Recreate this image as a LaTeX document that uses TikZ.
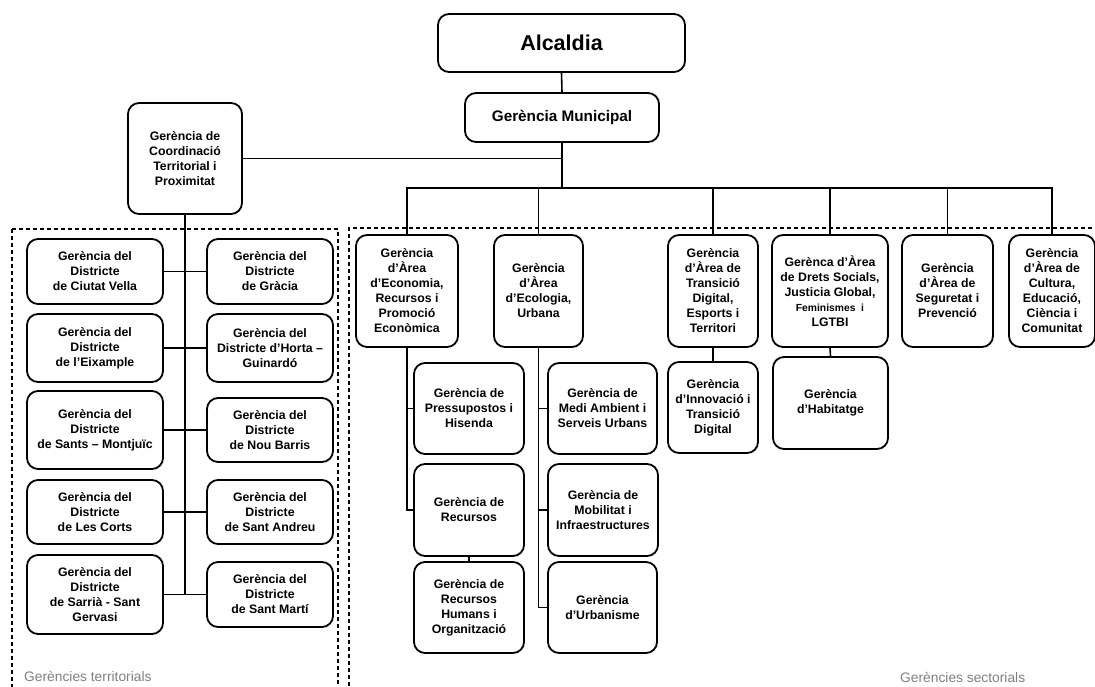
\documentclass[tikz,border=0pt]{standalone}
\usepackage{fontspec}
\setmainfont{Liberation Sans}
\begin{document}
\begin{tikzpicture}[x=1pt,y=-1pt,
  box/.style={draw=black, line width=1.8pt, rounded corners=11pt, align=center, inner sep=1pt,
    font=\fontsize{12.3}{15}\selectfont\bfseries, fill=white},
  conn/.style={draw=black, line width=1.6pt},
  grp/.style={draw=black, line width=1.3pt, dash pattern=on 4pt off 3pt},
  lbl/.style={text=black!50, font=\fontsize{13.8}{16}\selectfont, anchor=west, inner sep=0pt}]
\useasboundingbox (0,0) rectangle (1095,686);
% group frames
\draw[grp] (12,229) -- (338,229) -- (338,700);
\draw[grp] (12,229) -- (12,700);
\draw[grp] (349,700) -- (349,228) -- (1110,228);
% top
\node[box, minimum width=247pt, minimum height=58pt, font=\fontsize{21.5}{24}\selectfont\bfseries] (alc) at (561.5,43) {Alcaldia};
\node[box, minimum width=194pt, minimum height=49pt, font=\fontsize{15.3}{18}\selectfont\bfseries] (gm) at (562,117.5) {Gerència Municipal};
\node[box, minimum width=114pt, minimum height=111pt] (coord) at (185,158.5) {Gerència de\\Coordinació\\Territorial i\\Proximitat};
% territorial
\node[box, minimum width=136pt, minimum height=65pt] (cv) at (95,271.5) {Gerència del\\Districte\\de Ciutat Vella};
\node[box, minimum width=126pt, minimum height=65pt] (gr) at (270,271.5) {Gerència del\\Districte\\de Gràcia};
\node[box, minimum width=136pt, minimum height=68pt] (ei) at (95,348) {Gerència del\\Districte\\de l’Eixample};
\node[box, minimum width=126pt, minimum height=68pt] (ho) at (270,348) {Gerència del\\Districte d’Horta –\\Guinardó};
\node[box, minimum width=136pt, minimum height=78pt] (sa) at (95,430) {Gerència del\\Districte\\de Sants – Montjuïc};
\node[box, minimum width=126pt, minimum height=64pt] (nb) at (270,430) {Gerència del\\Districte\\de Nou Barris};
\node[box, minimum width=136pt, minimum height=64pt] (lc) at (95,512) {Gerència del\\Districte\\de Les Corts};
\node[box, minimum width=126pt, minimum height=64pt] (an) at (270,512) {Gerència del\\Districte\\de Sant Andreu};
\node[box, minimum width=136pt, minimum height=79pt] (sr) at (95,594.5) {Gerència del\\Districte\\de Sarrià - Sant\\Gervasi};
\node[box, minimum width=126pt, minimum height=65pt] (sm) at (270,594.5) {Gerència del\\Districte\\de Sant Martí};
% sectorial top row
\node[box, minimum width=102pt, minimum height=112pt] (eco) at (407,291) {Gerència\\d’Àrea\\d’Economia,\\Recursos i\\Promoció\\Econòmica};
\node[box, minimum width=89pt, minimum height=112pt] (ecol) at (538.5,291) {Gerència\\d’Àrea\\d’Ecologia,\\Urbana};
\node[box, minimum width=90pt, minimum height=112pt] (trans) at (713,291) {Gerència\\d’Àrea de\\Transició\\Digital,\\Esports i\\Territori};
\node[box, minimum width=116pt, minimum height=112pt] (drets) at (830,291) {Gerènca d’Àrea\\de Drets Socials,\\Justicia Global,\\{\fontsize{10.3}{15}\selectfont Feminismes\ \ i}\\LGTBI};
\node[box, minimum width=91pt, minimum height=112pt] (seg) at (947.5,291) {Gerència\\d’Àrea de\\Seguretat i\\Prevenció};
\node[box, minimum width=86pt, minimum height=112pt] (cult) at (1052,291) {Gerència\\d’Àrea de\\Cultura,\\Educació,\\Ciència i\\Comunitat};
% sub boxes
\node[box, minimum width=110pt, minimum height=91pt] (pres) at (469,408.5) {Gerència de\\Pressupostos i\\Hisenda};
\node[box, minimum width=110pt, minimum height=92pt] (rec) at (469,510) {Gerència de\\Recursos};
\node[box, minimum width=110pt, minimum height=91pt] (rrhh) at (469,607.5) {Gerència de\\Recursos\\Humans i\\Organització};
\node[box, minimum width=109pt, minimum height=91pt] (medi) at (602.5,408.5) {Gerència de\\Medi Ambient i\\Serveis Urbans};
\node[box, minimum width=110pt, minimum height=92pt] (mob) at (603,510) {Gerència de\\Mobilitat i\\Infraestructures};
\node[box, minimum width=109pt, minimum height=91pt] (urb) at (602.5,607.5) {Gerència\\d’Urbanisme};
\node[box, minimum width=90pt, minimum height=91pt] (inno) at (713,407.5) {Gerència\\d’Innovació i\\Transició\\Digital};
\node[box, minimum width=115pt, minimum height=92pt] (hab) at (830.5,403) {Gerència\\d’Habitatge};
% connectors
\coordinate (bus) at (562,188);
\draw[conn] (alc.south) -- (gm.north);
\draw[conn] (gm.south) -- (bus);
\draw[conn] (coord.east) -- (coord.east -| gm.south);
\draw[conn] (bus) -| (eco.north);
\draw[conn] (bus) -| (ecol.north);
\draw[conn] (bus) -| (trans.north);
\draw[conn] (bus) -| (drets.north);
\draw[conn] (bus) -| (seg.north);
\draw[conn] (bus) -| (cult.north);
% territorial connectors
\draw[conn] (coord.south) -- (coord.south |- sm.west);
\draw[conn] (cv.east) -- (gr.west);
\draw[conn] (ei.east) -- (ho.west);
\draw[conn] (sa.east) -- (nb.west);
\draw[conn] (lc.east) -- (an.west);
\draw[conn] (sr.east) -- (sm.west);
% sectorial sub connectors
\draw[conn] (eco.south) |- (rec.west);
\draw[conn] (eco.south |- pres.west) -- (pres.west);
\draw[conn] (rec.south) -- (rrhh.north);
\draw[conn] (ecol.south) |- (urb.west);
\draw[conn] (ecol.south |- medi.west) -- (medi.west);
\draw[conn] (ecol.south |- mob.west) -- (mob.west);
\draw[conn] (trans.south) -- (inno.north);
\draw[conn] (drets.south) -- (hab.north);
% labels
\node[lbl] (lt) at (24,676) {Gerències territorials};
\node[lbl] (ls) at (900,677) {Gerències sectorials};
\end{tikzpicture}
\end{document}
